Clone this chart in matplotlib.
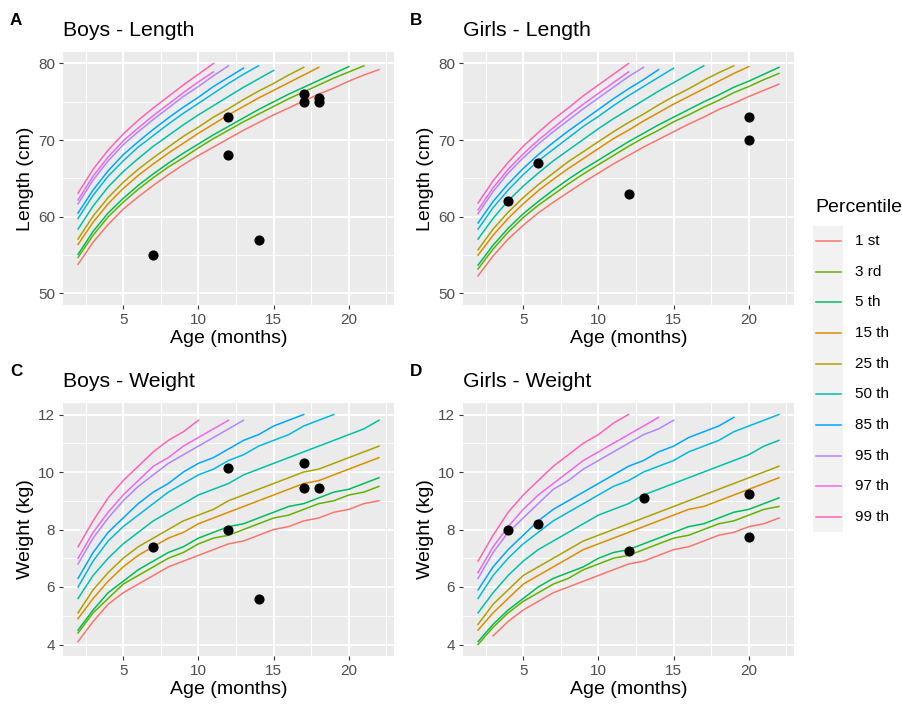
import numpy as np
import matplotlib
matplotlib.use("Agg")
import matplotlib.pyplot as plt
from matplotlib.ticker import MultipleLocator

plt.rcParams['font.family'] = ['Liberation Sans', 'DejaVu Sans']

# percentile curves, monthly from month 2 (values above the axis limit are left out)
boys_length = {
    "1 st":  [53.8, 56.7, 59.0, 61.0, 62.6, 64.1, 65.5, 66.8, 68.0, 69.1, 70.2, 71.3, 72.3, 73.3, 74.2, 75.1, 76.0, 76.8, 77.7, 78.5, 79.2],
    "3 rd":  [54.7, 57.6, 60.0, 61.9, 63.6, 65.1, 66.5, 67.7, 69.0, 70.2, 71.3, 72.4, 73.4, 74.4, 75.4, 76.3, 77.2, 78.1, 78.9, 79.7],
    "5 th":  [55.1, 58.1, 60.5, 62.4, 64.1, 65.6, 67.0, 68.3, 69.5, 70.7, 71.8, 72.9, 74.0, 75.0, 76.0, 76.9, 77.8, 78.7, 79.6],
    "15 th": [56.4, 59.3, 61.7, 63.7, 65.4, 66.9, 68.3, 69.6, 70.9, 72.1, 73.3, 74.4, 75.5, 76.5, 77.5, 78.5, 79.5],
    "25 th": [57.1, 60.1, 62.5, 64.5, 66.2, 67.7, 69.1, 70.5, 71.7, 73.0, 74.1, 75.3, 76.4, 77.4, 78.5, 79.5],
    "50 th": [58.4, 61.4, 63.9, 65.9, 67.6, 69.2, 70.6, 72.0, 73.3, 74.5, 75.7, 76.9, 78.0, 79.1],
    "75 th": [59.8, 62.8, 65.3, 67.3, 69.1, 70.6, 72.1, 73.5, 74.8, 76.1, 77.4, 78.6, 79.7],
    "85 th": [60.5, 63.5, 66.0, 68.1, 69.8, 71.4, 72.9, 74.3, 75.6, 77.0, 78.2, 79.4],
    "95 th": [61.7, 64.8, 67.3, 69.4, 71.1, 72.7, 74.2, 75.7, 77.0, 78.4, 79.7],
    "97 th": [62.2, 65.3, 67.8, 69.9, 71.6, 73.2, 74.7, 76.2, 77.6, 78.9],
    "99 th": [63.1, 66.2, 68.7, 70.8, 72.6, 74.2, 75.7, 77.2, 78.6, 80.0],
}
girls_length = {
    "1 st":  [52.3, 54.9, 57.1, 58.9, 60.5, 61.9, 63.2, 64.5, 65.7, 66.9, 68.0, 69.1, 70.1, 71.1, 72.1, 73.0, 74.0, 74.8, 75.7, 76.5, 77.3],
    "3 rd":  [53.2, 55.8, 58.0, 59.9, 61.5, 62.9, 64.3, 65.6, 66.8, 68.0, 69.2, 70.3, 71.3, 72.4, 73.3, 74.3, 75.2, 76.2, 77.0, 77.9, 78.7],
    "5 th":  [53.7, 56.3, 58.5, 60.4, 62.0, 63.5, 64.9, 66.2, 67.4, 68.6, 69.8, 70.9, 72.0, 73.0, 74.0, 75.0, 75.9, 76.9, 77.7, 78.6, 79.5],
    "15 th": [55.0, 57.6, 59.8, 61.7, 63.4, 64.9, 66.3, 67.6, 68.9, 70.2, 71.3, 72.5, 73.6, 74.7, 75.7, 76.7, 77.7, 78.7, 79.6],
    "25 th": [55.7, 58.4, 60.6, 62.5, 64.2, 65.7, 67.2, 68.5, 69.8, 71.1, 72.3, 73.4, 74.6, 75.7, 76.7, 77.8, 78.8, 79.7],
    "50 th": [57.1, 59.8, 62.1, 64.0, 65.7, 67.3, 68.7, 70.1, 71.5, 72.8, 74.0, 75.2, 76.4, 77.5, 78.6, 79.7],
    "75 th": [58.4, 61.2, 63.5, 65.5, 67.3, 68.8, 70.3, 71.8, 73.1, 74.5, 75.8, 77.0, 78.2, 79.4],
    "85 th": [59.2, 62.0, 64.3, 66.3, 68.1, 69.7, 71.2, 72.6, 74.0, 75.4, 76.7, 77.9, 79.2],
    "95 th": [60.4, 63.3, 65.7, 67.7, 69.5, 71.1, 72.6, 74.1, 75.5, 76.9, 78.3, 79.5],
    "97 th": [60.9, 63.8, 66.2, 68.2, 70.0, 71.6, 73.2, 74.7, 76.1, 77.5, 78.9],
    "99 th": [61.8, 64.7, 67.1, 69.2, 71.0, 72.7, 74.2, 75.8, 77.2, 78.6, 80.0],
}
boys_weight = {
    "1 st":  [4.1, 4.8, 5.4, 5.8, 6.1, 6.4, 6.7, 6.9, 7.1, 7.3, 7.5, 7.6, 7.8, 8.0, 8.1, 8.3, 8.4, 8.6, 8.7, 8.9, 9.0],
    "3 rd":  [4.4, 5.1, 5.6, 6.1, 6.4, 6.7, 7.0, 7.2, 7.5, 7.7, 7.8, 8.0, 8.2, 8.4, 8.5, 8.7, 8.9, 9.0, 9.2, 9.3, 9.5],
    "5 th":  [4.5, 5.2, 5.8, 6.2, 6.6, 6.9, 7.2, 7.4, 7.7, 7.9, 8.1, 8.2, 8.4, 8.6, 8.8, 8.9, 9.1, 9.3, 9.4, 9.6, 9.8],
    "15 th": [4.9, 5.6, 6.2, 6.7, 7.1, 7.4, 7.7, 7.9, 8.2, 8.4, 8.6, 8.8, 9.0, 9.2, 9.4, 9.6, 9.7, 9.9, 10.1, 10.3, 10.5],
    "25 th": [5.1, 5.9, 6.5, 7.0, 7.4, 7.7, 8.0, 8.3, 8.5, 8.7, 9.0, 9.2, 9.4, 9.6, 9.8, 10.0, 10.1, 10.3, 10.5, 10.7, 10.9],
    "50 th": [5.6, 6.4, 7.0, 7.5, 7.9, 8.3, 8.6, 8.9, 9.2, 9.4, 9.6, 9.9, 10.1, 10.3, 10.5, 10.7, 10.9, 11.1, 11.3, 11.5, 11.8],
    "75 th": [6.0, 6.9, 7.6, 8.1, 8.5, 8.9, 9.3, 9.6, 9.9, 10.1, 10.4, 10.6, 10.9, 11.1, 11.3, 11.6, 11.8, 12.0],
    "85 th": [6.3, 7.2, 7.9, 8.4, 8.9, 9.3, 9.6, 10.0, 10.3, 10.5, 10.8, 11.1, 11.3, 11.6, 11.8, 12.0],
    "95 th": [6.8, 7.7, 8.4, 9.0, 9.5, 9.9, 10.3, 10.6, 10.9, 11.2, 11.5, 11.8],
    "97 th": [7.0, 7.9, 8.6, 9.2, 9.7, 10.2, 10.5, 10.9, 11.2, 11.5, 11.8],
    "99 th": [7.4, 8.3, 9.1, 9.7, 10.2, 10.7, 11.1, 11.4, 11.8],
}
girls_weight = {
    "1 st":  [4.3, 4.8, 5.2, 5.5, 5.8, 6.0, 6.2, 6.4, 6.6, 6.8, 6.9, 7.1, 7.3, 7.4, 7.6, 7.8, 7.9, 8.1, 8.2, 8.4],
    "3 rd":  [4.0, 4.6, 5.1, 5.5, 5.8, 6.1, 6.3, 6.6, 6.8, 7.0, 7.1, 7.3, 7.5, 7.7, 7.8, 8.0, 8.2, 8.3, 8.5, 8.7, 8.8],
    "5 th":  [4.1, 4.7, 5.2, 5.6, 6.0, 6.3, 6.5, 6.7, 7.0, 7.2, 7.3, 7.5, 7.7, 7.9, 8.1, 8.2, 8.4, 8.6, 8.7, 8.9, 9.1],
    "15 th": [4.5, 5.1, 5.6, 6.1, 6.4, 6.7, 7.0, 7.3, 7.5, 7.7, 7.9, 8.1, 8.3, 8.5, 8.7, 8.8, 9.0, 9.2, 9.4, 9.6, 9.8],
    "25 th": [4.7, 5.4, 5.9, 6.4, 6.7, 7.0, 7.3, 7.6, 7.8, 8.0, 8.2, 8.4, 8.6, 8.8, 9.0, 9.2, 9.4, 9.6, 9.8, 10.0, 10.2],
    "50 th": [5.1, 5.8, 6.4, 6.9, 7.3, 7.6, 7.9, 8.2, 8.5, 8.7, 8.9, 9.2, 9.4, 9.6, 9.8, 10.0, 10.2, 10.4, 10.6, 10.9, 11.1],
    "75 th": [5.6, 6.4, 7.0, 7.5, 7.9, 8.3, 8.6, 8.9, 9.2, 9.5, 9.7, 10.0, 10.2, 10.4, 10.7, 10.9, 11.1, 11.4, 11.6, 11.8, 12.0],
    "85 th": [5.9, 6.7, 7.3, 7.8, 8.3, 8.7, 9.0, 9.3, 9.6, 9.9, 10.2, 10.4, 10.7, 10.9, 11.2, 11.4, 11.6, 11.9],
    "95 th": [6.3, 7.2, 7.9, 8.4, 8.9, 9.4, 9.7, 10.1, 10.4, 10.7, 11.0, 11.3, 11.5, 11.8],
    "97 th": [6.5, 7.4, 8.1, 8.7, 9.2, 9.6, 10.0, 10.4, 10.7, 11.0, 11.3, 11.6, 11.9],
    "99 th": [6.9, 7.8, 8.6, 9.2, 9.7, 10.2, 10.6, 11.0, 11.3, 11.7, 12.0],
}
# first month of each curve when it is not month 2
girls_weight_start = {"1 st": 3}

# measured children
boys_len_age = [7, 12, 12, 14, 17, 17, 18, 18]
boys_len_obs = [55, 73, 68, 57, 76, 75, 75.5, 75]
girls_len_age = [4, 6, 12, 20, 20]
girls_len_obs = [62, 67, 63, 73, 70]
boys_wt_age = [7, 12, 12, 14, 17, 17, 18]
boys_wt_obs = [7.4, 10.15, 8.0, 5.6, 10.3, 9.45, 9.45]
girls_wt_age = [4, 6, 12, 13, 20, 20]
girls_wt_obs = [8.0, 8.2, 7.25, 9.1, 9.25, 7.75]

# ggplot hue colours (levels sorted as text)
colours = {
    "1 st": "#F8766D", "15 th": "#DB8E00", "25 th": "#AEA200", "3 rd": "#64B200",
    "5 th": "#00BD5C", "50 th": "#00C1A7", "75 th": "#00BADE", "85 th": "#00A6FF",
    "95 th": "#B385FF", "97 th": "#EF67EB", "99 th": "#FF63B6",
}
legend_labels = ["1 st", "3 rd", "5 th", "15 th", "25 th", "50 th", "85 th", "95 th", "97 th", "99 th"]

W, H = 902, 706
fig = plt.figure(figsize=(W / 100, H / 100), dpi=100)


def px_axes(l, t, r, b):
    return fig.add_axes([l / W, 1 - b / H, (r - l) / W, (b - t) / H])


panels = [
    ((63, 52, 394, 305), "A", "Boys - Length", "Length (cm)", boys_length, {}, boys_len_age, boys_len_obs,
     (48.5, 81.5), [50, 60, 70, 80], 5),
    ((463, 52, 794, 305), "B", "Girls - Length", "Length (cm)", girls_length, {}, girls_len_age, girls_len_obs,
     (48.5, 81.5), [50, 60, 70, 80], 5),
    ((63, 403, 394, 656), "C", "Boys - Weight", "Weight (kg)", boys_weight, {}, boys_wt_age, boys_wt_obs,
     (3.6, 12.4), [4, 6, 8, 10, 12], 1),
    ((463, 403, 794, 656), "D", "Girls - Weight", "Weight (kg)", girls_weight, girls_weight_start,
     girls_wt_age, girls_wt_obs, (3.6, 12.4), [4, 6, 8, 10, 12], 1),
]

for rect, letter, title, ylab, curves, starts, ages, obs, ylim, yticks, yminor in panels:
    ax = px_axes(*rect)
    ax.set_facecolor("#EBEBEB")
    for s in ax.spines.values():
        s.set_visible(False)

    for lab in sorted(curves):
        vals = curves[lab]
        x0 = starts.get(lab, 2)
        ax.plot(np.arange(x0, x0 + len(vals)), vals, color=colours[lab], lw=1.1, zorder=3)
    ax.plot(ages, obs, 'o', color='black', ms=6.3, zorder=4)

    ax.set_xlim(1, 23)
    ax.set_ylim(*ylim)
    ax.set_xticks([5, 10, 15, 20])
    ax.set_yticks(yticks)
    ax.xaxis.set_minor_locator(MultipleLocator(2.5))
    ax.yaxis.set_minor_locator(MultipleLocator(yminor))
    ax.grid(which='major', color='white', lw=1.4, zorder=0)
    ax.grid(which='minor', color='white', lw=0.7, zorder=0)
    ax.set_axisbelow(True)
    ax.tick_params(which='major', length=3.2, width=0.8, color='#333333',
                   labelsize=11, labelcolor='#4D4D4D', pad=2.5)
    ax.tick_params(which='minor', length=0)
    ax.set_xlabel("Age (months)", fontsize=14, labelpad=2)
    ax.set_ylabel(ylab, fontsize=14, labelpad=3)

    l, t = rect[0], rect[1]
    fig.text(l / W, 1 - (t - 16) / H, title, fontsize=15.3, va='baseline')
    fig.text((l - 53) / W, 1 - (t - 27) / H, letter, fontsize=12.3, fontweight='bold', va='baseline')

# legend drawn in its own small axes
leg = px_axes(813, 226, 843, 532)
leg.set_facecolor("#F2F2F2")
for s in leg.spines.values():
    s.set_visible(False)
leg.set_xticks([])
leg.set_yticks([])
leg.set_xlim(0, 1)
leg.set_ylim(len(legend_labels) - 0.5, -0.5)
for i, lab in enumerate(legend_labels):
    leg.plot([0.1, 0.93], [i, i], color=colours[lab], lw=1.1)
    leg.text(1.4, i, lab, fontsize=11, va='center', ha='left', clip_on=False)
fig.text(815 / W, 1 - 212 / H, "Percentile", fontsize=14, va='baseline')

fig.savefig("out.png", dpi=100)
